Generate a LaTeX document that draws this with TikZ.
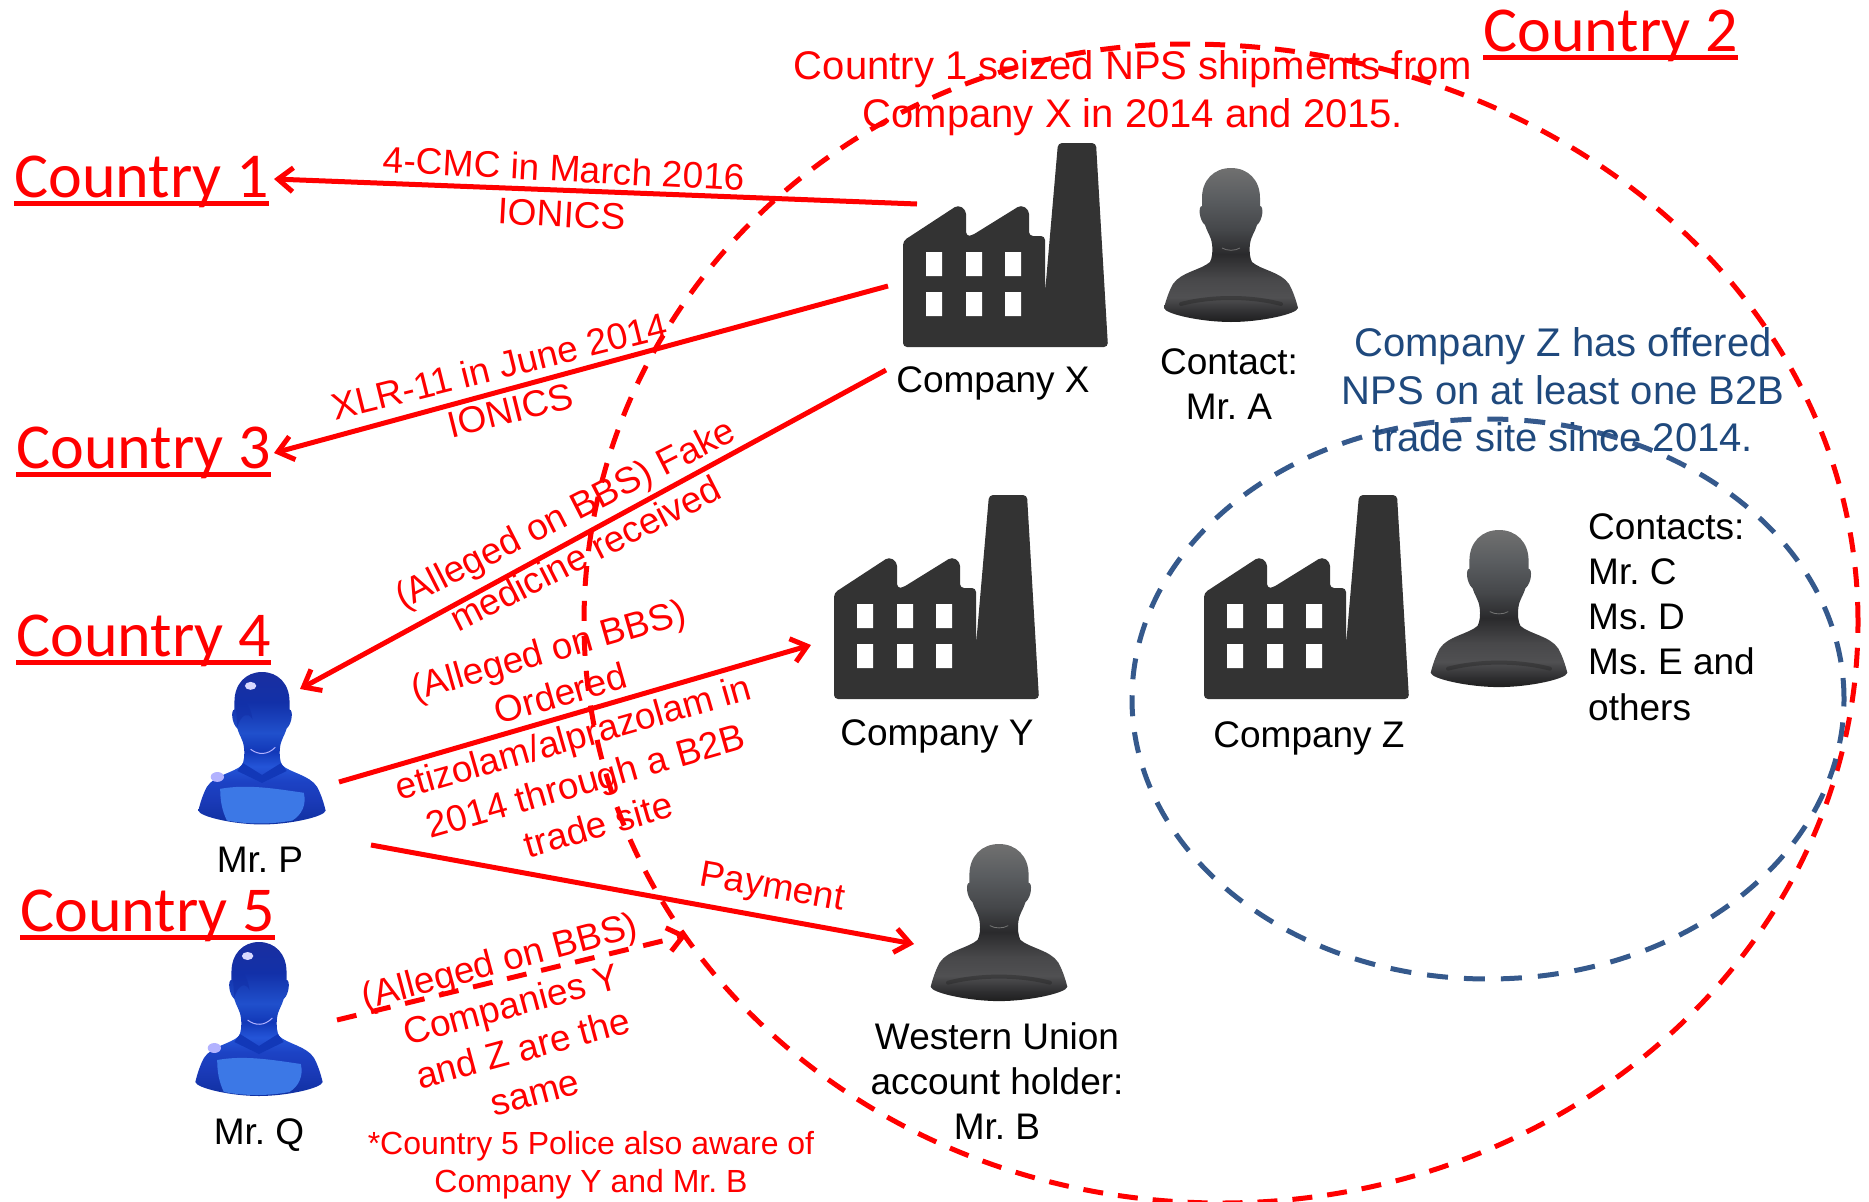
\documentclass[tikz,border=0pt]{standalone}
\usepackage{fontspec}
\setmainfont{Liberation Sans}
\newfontfamily\calib{Carlito}
\usetikzlibrary{arrows.meta}
\frenchspacing
\definecolor{cred}{HTML}{FF0000}
\definecolor{cblue}{HTML}{35598C}
\definecolor{ztxt}{HTML}{1F497D}
\definecolor{fac}{HTML}{333333}
\newcommand\ctry[1]{\setbox0=\hbox{#1}\rlap{\raisebox{-9pt}{\rule{\wd0}{5pt}}}\box0}
\definecolor{g0}{HTML}{707070}\definecolor{g1}{HTML}{5A5D60}\definecolor{g2}{HTML}{45474A}
\definecolor{g3}{HTML}{2A2A2C}\definecolor{g4}{HTML}{48484A}\definecolor{g5}{HTML}{505052}
\definecolor{g6}{HTML}{2E2E30}\definecolor{g7}{HTML}{1E1E1E}
\pgfdeclareverticalshading{bustdark}{100bp}{color(0bp)=(g7);color(25bp)=(g7);color(28bp)=(g6);color(33bp)=(g5);color(39bp)=(g4);color(47bp)=(g3);color(55bp)=(g2);color(65bp)=(g1);color(75bp)=(g0);color(100bp)=(g0)}
\definecolor{b0}{HTML}{1A2FA0}\definecolor{b1}{HTML}{1230A8}\definecolor{b2}{HTML}{2050CC}
\definecolor{b3}{HTML}{1238B8}\definecolor{b4}{HTML}{2455D8}\definecolor{b5}{HTML}{1C42C4}
\definecolor{b6}{HTML}{1A3AB8}\definecolor{b7}{HTML}{1030A0}
\pgfdeclareverticalshading{bustblue}{100bp}{color(0bp)=(b7);color(25bp)=(b7);color(33bp)=(b6);color(39bp)=(b5);color(44bp)=(b4);color(49bp)=(b3);color(55bp)=(b2);color(65bp)=(b1);color(75bp)=(b0);color(100bp)=(b0)}
\definecolor{chest}{HTML}{3C78E6}
\newcommand\bustpath{(0,0) .. controls (-17,0) and (-29,12) .. (-29,30)
 .. controls (-29,33) and (-29,36) .. (-29,38)
 .. controls (-33,38) and (-32,52) .. (-26,57)
 .. controls (-24,64) and (-20,68) .. (-19,76) .. controls (-18,84) and (-19,90) .. (-21,94)
 .. controls (-30,102) and (-50,104) .. (-58,116)
 .. controls (-62,123) and (-65,132) .. (-67,140)
 .. controls (-66,146) and (-30,154) .. (0,154)
 .. controls (30,154) and (66,146) .. (67,140)
 .. controls (65,132) and (62,123) .. (58,116)
 .. controls (50,104) and (30,102) .. (21,94)
 .. controls (19,90) and (18,84) .. (19,76) .. controls (20,68) and (24,64) .. (26,57)
 .. controls (32,52) and (33,38) .. (29,38)
 .. controls (29,36) and (29,33) .. (29,30)
 .. controls (29,12) and (17,0) .. (0,0) -- cycle}
\newcommand\darkperson[4]{\coordinate (#1) at (#2,#3);
 \begin{scope}[shift={(#2,#3)},scale=#4]
  \shade[shading=bustdark] \bustpath;
  \draw[black!55,line width=0.8pt] (-9,80) .. controls (-4,83) and (4,83) .. (9,80);
  \draw[black!85,line width=4pt,line cap=round,opacity=.45] (-50,136) .. controls (-20,128) and (20,128) .. (50,136);
 \end{scope}}
\newcommand\blueperson[4]{\coordinate (#1) at (#2,#3);
 \begin{scope}[shift={(#2,#3)},xscale=0.95,yscale=#4]
  \shade[shading=bustblue] \bustpath;
  \fill[b1,opacity=.6] (-28,28) .. controls (-20,26) and (-12,32) .. (-10,48) .. controls (-14,40) and (-22,42) .. (-26,56) -- cycle;
  \draw[white!70!blue,line width=1pt] (-12,78) .. controls (-4,84) and (6,84) .. (14,76);
  \fill[b3] (-20,92) -- (0,104) -- (20,92) -- (26,100) -- (0,112) -- (-26,100) -- cycle;
  \fill[chest] (-44,118) .. controls (-15,113) and (15,118) .. (44,122) .. controls (47,134) and (42,144) .. (32,150) .. controls (10,154) and (-15,154) .. (-37,150) .. controls (-42,140) and (-44,130) .. (-44,118) -- cycle;
  \fill[white!85!blue] (-12,14) ellipse [x radius=6pt,y radius=4pt];
  \fill[white!70!blue] (-47,106) ellipse [x radius=7pt,y radius=5pt];
 \end{scope}}
\newcommand\factory[3]{\coordinate (#1) at (#2,#3);
 \begin{scope}[shift={(#2,#3)}]
  \fill[fac,rounded corners=4pt]
   (0,204) -- (0,98) -- (55,62) -- (63,67) -- (63,93) -- (68,93) -- (118,62) -- (126,67) -- (126,93) -- (142,93) -- (142,150) -- (155,0) -- (193,0) -- (205,204) -- cycle;
  \fill[white] (23,109) rectangle (39,133) (63,109) rectangle (79,133) (102,109) rectangle (118,133)
    (23,149) rectangle (39,173) (63,149) rectangle (79,173) (102,149) rectangle (118,173);
 \end{scope}}
\tikzset{
 redarrow/.style={draw=cred,line width=5pt,-{Straight Barb[length=15pt,width=24pt,line width=5pt]}},
 redtxt/.style={text=cred,font=\fontsize{37}{45.5}\selectfont,align=center,inner sep=0pt},
 toptxt/.style={text=cred,font=\fontsize{40}{47.7}\selectfont,align=center,inner sep=0pt},
 smalltxt/.style={text=cred,font=\fontsize{32}{38}\selectfont,align=center,inner sep=0pt},
 blacktxt/.style={text=black,font=\fontsize{37}{45.3}\selectfont,align=center,inner sep=0pt},
 bluetxt/.style={text=ztxt,font=\fontsize{40}{47.6}\selectfont,align=center,inner sep=0pt},
 ctrytxt/.style={text=cred,font=\calib\fontsize{64}{70}\selectfont,anchor=base west,inner sep=0pt},
 reddash/.style={draw=cred,line width=5pt,dash pattern=on 20pt off 15pt},
 bluedash/.style={draw=cblue,line width=5pt,dash pattern=on 21pt off 16pt},
}
\begin{document}
\begin{tikzpicture}[x=1pt,y=-1pt]
\useasboundingbox (0,0) rectangle (1869,1202);
\factory{fx}{903}{143}
\factory{fy}{834}{495}
\factory{fz}{1204}{495}
\darkperson{pa}{1231}{168}{1}
\darkperson{pz}{1499}{530}{1.02}
\darkperson{pb}{999}{844}{1.02}
\blueperson{pp}{262}{672}{0.99}
\blueperson{pq}{259}{942}{1.0}
% regions
\coordinate (bc) at (1488,699);
\draw[reddash] (1858,622) .. controls (1858,301) and (1560,44) .. (1185,44)
  .. controls (856,44) and (584,301) .. (584,622)
  .. controls (584,943) and (869,1203) .. (1221,1203)
  .. controls (1573,1203) and (1858,943) .. (1858,622) -- cycle;
\draw[bluedash] (bc) ellipse [x radius=356pt,y radius=280pt];
% labels
\node[ctrytxt] (c1) at (14,197) {\ctry{Country 1}};
\node[ctrytxt] (c2) at (1483,51) {\ctry{Country 2}};
\node[ctrytxt] (c3) at (16,468) {\ctry{Country 3}};
\node[ctrytxt] (c4) at (16,656) {\ctry{Country 4}};
\node[ctrytxt] (c5) at (20,931) {\ctry{Country 5}};
\node[blacktxt] (lx) at (993,383) {Company X};
\node[blacktxt] (la) at (1229,384) {Contact:\\Mr. A};
\node[blacktxt] (ly) at (937,736) {Company Y};
\node[blacktxt] (lz) at (1309,738) {Company Z};
\node[blacktxt] (lw) at (997,1081) {Western Union\\account holder:\\Mr. B};
\node[blacktxt] (lp) at (260,860) {Mr. P};
\node[blacktxt] (lq) at (259,1135) {Mr. Q};
\node[blacktxt,anchor=north west,align=left] (lc) at (1588,513) {Contacts:\\Mr. C\\Ms. D\\Ms. E and\\others};
\node[bluetxt] (bz) at (1563,390) {Company Z has offered\\NPS on at least one B2B\\trade site since 2014.};
\node[toptxt] (t0) at (1133,93) {Country 1 seized NPS shipments from\\Company X in 2014 and 2015.};
\node[redtxt,rotate=-3] (t1) at (563,191) {4-CMC in March 2016\\IONICS};
\node[redtxt,rotate=14] (t2) at (505,388) {XLR-11 in June 2014\\IONICS};
\node[redtxt,rotate=27] (t3) at (575,533) {(Alleged on BBS) Fake\\medicine received};
\node[redtxt,rotate=16] (t4) at (573,737) {(Alleged on BBS)\\Ordered\\etizolam/alprazolam in\\2014 through a B2B\\trade site};
\node[redtxt,rotate=-10] (t5) at (772,889) {Payment};
\node[redtxt,rotate=15] (t6) at (517,1026) {(Alleged on BBS)\\Companies Y\\and Z are the\\same};
\node[smalltxt] (t7) at (591,1165) {*Country 5 Police also aware of\\Company Y and Mr. B};
% connector ends
\coordinate (a1s) at (917,204); \coordinate (a1e) at (274,179);
\coordinate (a2s) at (888,286); \coordinate (a2e) at (274,453);
\coordinate (a3s) at (886,370); \coordinate (a3e) at (300,689);
\coordinate (a4s) at (339,782); \coordinate (a4e) at (811,645);
\coordinate (a5s) at (371,845); \coordinate (a5e) at (914,944);
\coordinate (a6s) at (337,1020); \coordinate (a6e) at (687,935);
\draw[redarrow] (a1s) -- (a1e);
\draw[redarrow] (a2s) -- (a2e);
\draw[redarrow] (a3s) -- (a3e);
\draw[redarrow] (a4s) -- (a4e);
\draw[redarrow] (a5s) -- (a5e);
\draw[redarrow,dash pattern=on 20pt off 15pt] (a6s) -- (a6e);
\end{tikzpicture}
\end{document}
